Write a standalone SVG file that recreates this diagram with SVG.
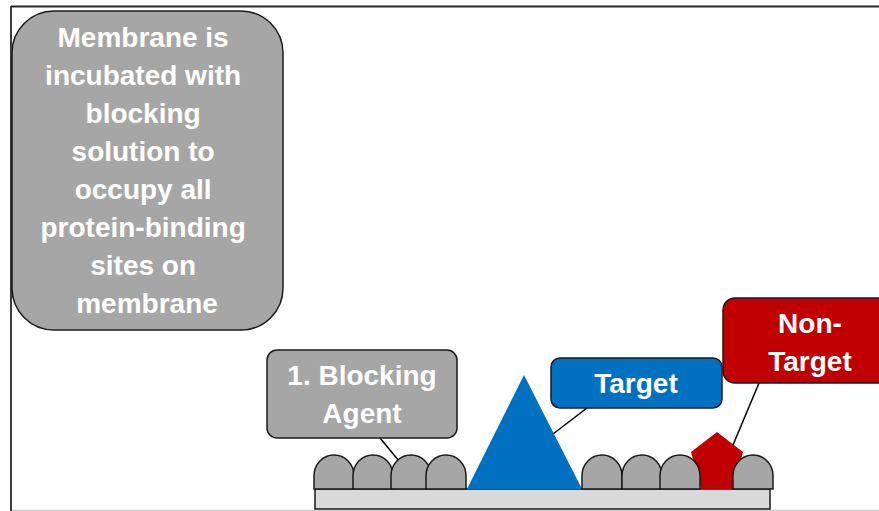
<svg xmlns="http://www.w3.org/2000/svg" width="879" height="511" viewBox="0 0 879 511">
<style>
.lbl{font-family:"Liberation Sans",Arial,sans-serif;font-weight:bold;font-size:28px;fill:#ffffff;text-anchor:middle}
.box{stroke:#1a1a1a;stroke-width:1.5}
.bump{fill:#a6a6a6;stroke:#1a1a1a;stroke-width:1.5}
.lead{stroke:#000000;stroke-width:1.5;fill:none}
</style>
<defs>
<path id="bump" d="M0,34 V21 C0,9 9,0 20,0 C31,0 40,9 40,21 V34 Z"/>
</defs>
<rect width="879" height="511" fill="#ffffff"/>
<g id="frame">
<line x1="11" y1="510.5" x2="879" y2="510.5" stroke="#d0d0d0" stroke-width="1.5"/>
<line x1="11" y1="6.5" x2="879" y2="6.5" stroke="#262626" stroke-width="1.8"/>
<line x1="11" y1="6" x2="11" y2="511" stroke="#262626" stroke-width="1.8"/>
</g>
<g id="description">
<rect class="box" x="12" y="11" width="271" height="319" rx="42" fill="#a6a6a6"/>
<text class="lbl" x="147">
<tspan x="147" y="47">Membrane is</tspan>
<tspan x="147" y="85">incubated with</tspan>
<tspan x="147" y="123">blocking</tspan>
<tspan x="147" y="161">solution to</tspan>
<tspan x="147" y="199">occupy all</tspan>
<tspan x="147" y="237">protein-binding</tspan>
<tspan x="147" y="275">sites on</tspan>
<tspan x="147" y="313">membrane</tspan>
</text>
</g>
<g id="connectors">
<line class="lead" x1="380" y1="438" x2="399" y2="461"/>
<line class="lead" x1="587" y1="408" x2="553" y2="434"/>
<line class="lead" x1="759" y1="383" x2="733" y2="445"/>
</g>
<g id="membrane">
<rect x="315" y="489" width="455" height="20" fill="#d9d9d9" stroke="#1a1a1a" stroke-width="1.5"/>
</g>
<g id="target-protein">
<polygon points="524,375 467,489 582,489" fill="#0070c0"/>
</g>
<g id="non-target-protein">
<polygon points="717,432 743,452 733,489 701,489 691,452" fill="#c00000"/>
</g>
<g id="blocking-agents">
<use href="#bump" class="bump" x="314" y="455"/>
<use href="#bump" class="bump" x="353" y="455"/>
<use href="#bump" class="bump" x="391" y="455"/>
<use href="#bump" class="bump" x="426" y="455"/>
<use href="#bump" class="bump" x="582" y="455"/>
<use href="#bump" class="bump" x="622" y="455"/>
<use href="#bump" class="bump" x="660" y="455"/>
<use href="#bump" class="bump" x="733" y="455"/>
</g>
<g id="label-blocking">
<rect class="box" x="267" y="350" width="190" height="88" rx="10" fill="#a6a6a6"/>
<text class="lbl"><tspan x="362" y="385">1. Blocking</tspan><tspan x="362" y="423">Agent</tspan></text>
</g>
<g id="label-target">
<rect class="box" x="551" y="358" width="171" height="50" rx="9" fill="#0070c0"/>
<text class="lbl" x="636" y="393">Target</text>
</g>
<g id="label-nontarget">
<rect class="box" x="723" y="298" width="180" height="85" rx="12" fill="#c00000"/>
<text class="lbl"><tspan x="810" y="333">Non-</tspan><tspan x="810" y="371">Target</tspan></text>
</g>
</svg>
